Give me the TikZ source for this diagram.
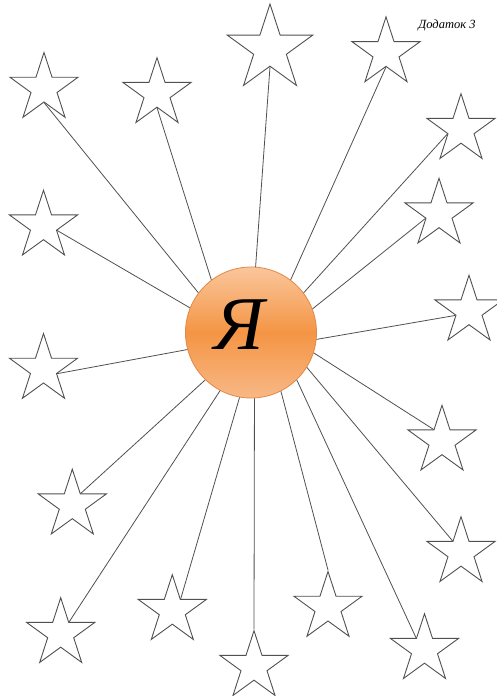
\documentclass[tikz,border=0pt]{standalone}
\usepackage{fontspec}
\setmainfont{Liberation Serif}
\definecolor{YaTop}{RGB}{250,198,156}
\definecolor{YaMid}{RGB}{244,149,68}
\definecolor{YaBottom}{RGB}{248,184,134}
\definecolor{YaEdge}{RGB}{226,136,72}
\definecolor{StarGray}{RGB}{80,80,80}
\usetikzlibrary{shapes.geometric}

\tikzset{
  starnode/.style={star, star points=5, star point ratio=2.618, draw=StarGray, line width=0.9pt, inner sep=0pt, minimum size=71.6pt},
  ray/.style={draw=StarGray, line width=0.8pt}
}

\begin{document}
\begin{tikzpicture}[x=1pt,y=-1pt]
      \useasboundingbox (0,0) rectangle (497,696);
      \node[circle, draw=YaEdge, line width=0.8pt, minimum size=131pt, top color=YaTop, bottom color=YaBottom, middle color=YaMid] (ya) at (251,332.5) {};
      \node[font=\fontsize{76}{80}\selectfont\itshape] (yaletter) at (239,325) {Я};
      \node[font=\fontsize{12.5}{14}\selectfont\itshape, anchor=center] (note) at (447,25) {Додаток 3};

      % stars, clockwise from the top left
      \node[starnode] (s1) at (44,88.3) {};
      \node[starnode] (s2) at (157,93.5) {};
      \node[starnode, minimum size=90pt] (s3) at (270,49) {};
      \node[starnode] (s4) at (386,52.7) {};
      \node[starnode] (s5) at (461,129.5) {};
      \node[starnode] (s6) at (439,214) {};
      \node[starnode] (s7) at (469,311) {};
      \node[starnode] (s8) at (442,441) {};
      \node[starnode] (s9) at (461,552.5) {};
      \node[starnode] (s10) at (424.5,649.5) {};
      \node[starnode] (s11) at (328,607.3) {};
      \node[starnode] (s12) at (254,666.5) {};
      \node[starnode] (s13) at (172.3,610.5) {};
      \node[starnode] (s14) at (60.7,633.5) {};
      \node[starnode] (s15) at (72.3,505) {};
      \node[starnode] (s16) at (43.5,369.3) {};
      \node[starnode] (s17) at (43.5,226) {};

      % rays from the circle
      \draw[ray] (ya.143.9) -- (s1.inner point 3);
      \draw[ray] (ya.127.5) -- (s2.inner point 3);
      \draw[ray] (ya.86.7) -- (s3.inner point 3);
      \draw[ray] (ya.53.5) -- (s4.inner point 3);
      \draw[ray] (ya.37.1) -- (s5.inner point 2);
      \draw[ray] (ya.21.6) -- (s6.inner point 2);
      \draw[ray] (ya.-6.8) -- (s7.inner point 2);
      \draw[ray] (ya.-18.7) -- (s8.inner point 1);
      \draw[ray] (ya.-32.7) -- (s9.inner point 1);
      \draw[ray] (ya.-46.6) -- (s10.inner point 1);
      \draw[ray] (ya.-63.7) -- (s11.outer point 1);
      \draw[ray] (ya.-87) -- (s12.outer point 1);
      \draw[ray] (ya.-100.5) -- (s13.inner point 5);
      \draw[ray] (ya.-118.8) -- (s14.inner point 5);
      \draw[ray] (ya.-134.3) -- (s15.inner point 5);
      \draw[ray] (ya.-165.2) -- (s16.inner point 4);
      \draw[ray] (ya.158) -- (s17.inner point 4);
    \end{tikzpicture}
\end{document}
